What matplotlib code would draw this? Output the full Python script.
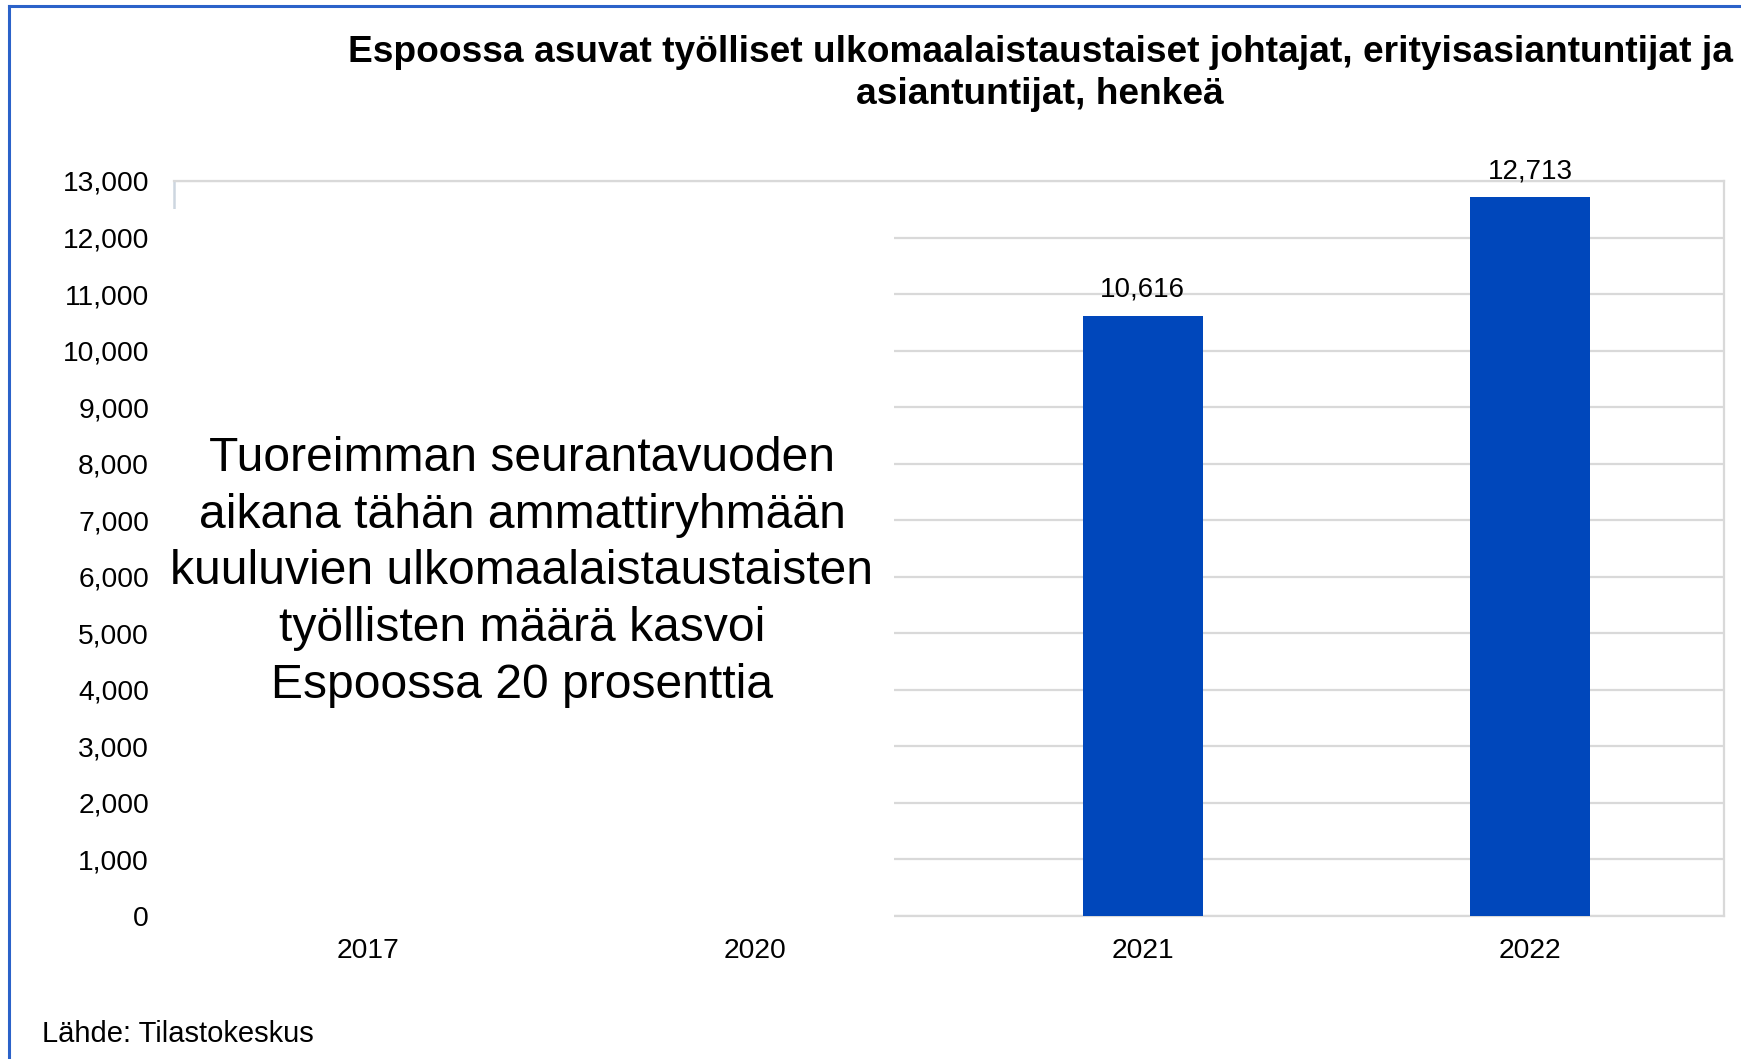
import matplotlib.pyplot as plt
from matplotlib.patches import Rectangle
from matplotlib.lines import Line2D
from matplotlib.ticker import FuncFormatter, MultipleLocator
import numpy as np

plt.rcParams['font.family'] = ['Liberation Sans', 'DejaVu Sans']

years = ['2017', '2020', '2021', '2022']
values = [np.nan, np.nan, 10616, 12713]

title1 = 'Espoossa asuvat työlliset ulkomaalaistaustaiset johtajat, erityisasiantuntijat ja'
title2 = 'asiantuntijat, henkeä'
note = ('Tuoreimman seurantavuoden\naikana tähän ammattiryhmään\n'
        'kuuluvien ulkomaalaistaustaisten\ntyöllisten määrä kasvoi\n'
        'Espoossa 20 prosenttia')
source = 'Lähde: Tilastokeskus'

W, H = 1741, 1059
fig = plt.figure(figsize=(W / 100, H / 100), dpi=100)
ax = fig.add_axes([174 / W, 1 - 916 / H, (1724 - 174) / W, (916 - 181) / H])

x = np.arange(len(years))
ax.bar(x, values, width=0.31, color='#0047BB', zorder=3)
for xi, v in zip(x, values):
    if not np.isnan(v):
        ax.text(xi, v + 230, f'{int(v):,}', ha='center', va='bottom', fontsize=20)

ax.set_xlim(-0.5, 3.5)
ax.set_ylim(0, 13000)
ax.yaxis.set_major_locator(MultipleLocator(1000))
ax.yaxis.set_major_formatter(FuncFormatter(lambda v, p: f'{int(v):,}'))
ax.set_xticks(x)
ax.set_xticklabels(years)
ax.tick_params(axis='both', length=0, labelsize=20.3)
ax.tick_params(axis='y', pad=18)
ax.tick_params(axis='x', pad=16)
ax.grid(axis='y', color='#d9d9d9', linewidth=1.6, zorder=0)
for side in ['top', 'bottom', 'right']:
    ax.spines[side].set_color('#d9d9d9')
    ax.spines[side].set_linewidth(1.6)
ax.spines['left'].set_color('#cdd6e0')
ax.spines['left'].set_linewidth(1.8)

# white box hiding the left part of the plot area
fig.add_artist(Rectangle((172 / W, 1 - 926 / H), (894 - 172) / W, (926 - 209) / H,
                         transform=fig.transFigure, facecolor='white',
                         edgecolor='none', zorder=5))
fig.text(522 / W, 1 - 572 / H, note, ha='center', va='center', fontsize=34.6,
         linespacing=1.33, zorder=6)

fig.text(1040 / W, 1 - 53 / H, title1, ha='center', va='center', fontsize=26.7,
         fontweight='bold')
fig.text(1040 / W, 1 - 95 / H, title2, ha='center', va='center', fontsize=26.7,
         fontweight='bold')
fig.text(42 / W, 1 - 1034 / H, source, ha='left', va='center', fontsize=21)

# blue frame (left and top edges)
fig.add_artist(Line2D([9 / W, 9 / W], [0, 1 - 6 / H], transform=fig.transFigure,
                      color='#2b62c9', linewidth=2.2))
fig.add_artist(Line2D([9 / W, 1], [1 - 6 / H, 1 - 6 / H], transform=fig.transFigure,
                      color='#2b62c9', linewidth=2.2))

fig.savefig('out.png', dpi=100)
